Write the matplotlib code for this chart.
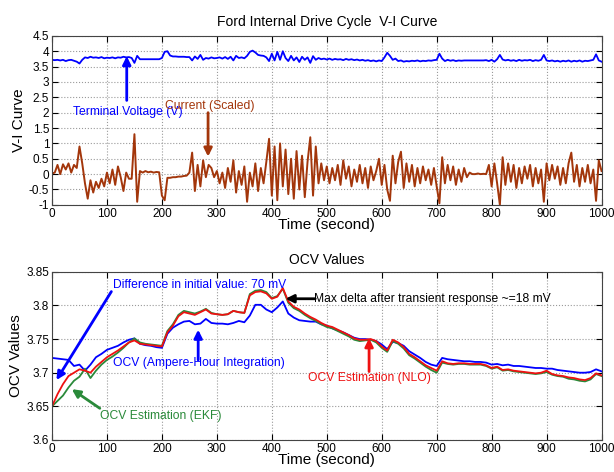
import numpy as np
import matplotlib
matplotlib.use('Agg')
import matplotlib.pyplot as plt
from matplotlib.ticker import FuncFormatter

plt.rcParams['font.family'] = ['Liberation Sans', 'DejaVu Sans']
plt.rcParams['axes.unicode_minus'] = False

# ---- top panel: terminal voltage and scaled current, one sample every 5 s ----
voltage = [
	3.72, 3.71, 3.72, 3.70, 3.72, 3.68, 3.71, 3.72, 3.69, 3.66,
	3.60, 3.72, 3.80, 3.78, 3.82, 3.79, 3.80, 3.78, 3.81, 3.77,
	3.79, 3.78, 3.80, 3.77, 3.80, 3.79, 3.82, 3.80, 3.81, 3.78,
	3.62, 3.85, 3.74, 3.74, 3.74, 3.74, 3.74, 3.74, 3.74, 3.74,
	3.78, 3.98, 4.00, 3.86, 3.83, 3.83, 3.82, 3.82, 3.82, 3.81,
	3.81, 3.70, 3.83, 3.75, 3.88, 3.72, 3.78, 3.76, 3.80, 3.77,
	3.78, 3.80, 3.76, 3.81, 3.75, 3.82, 3.70, 3.85, 3.78, 3.80,
	3.77, 3.85, 3.98, 4.02, 3.96, 3.88, 3.86, 3.85, 3.80, 3.68,
	3.92, 3.70, 3.98, 3.72, 4.00, 3.78, 3.68, 3.85, 3.70, 3.80,
	3.65, 3.82, 3.72, 3.80, 3.62, 3.84, 3.72, 3.78, 3.74, 3.76,
	3.73, 3.76, 3.72, 3.75, 3.73, 3.74, 3.71, 3.75, 3.72, 3.74,
	3.71, 3.73, 3.70, 3.72, 3.69, 3.71, 3.68, 3.70, 3.67, 3.70,
	3.68, 3.80, 3.95, 3.85, 3.72, 3.76, 3.68, 3.70, 3.66, 3.68,
	3.67, 3.69, 3.68, 3.70, 3.67, 3.69, 3.68, 3.70, 3.69, 3.71,
	3.72, 3.92, 3.76, 3.68, 3.72, 3.69, 3.71, 3.68, 3.70, 3.69,
	3.70, 3.70, 3.70, 3.70, 3.70, 3.70, 3.70, 3.70, 3.71, 3.68,
	3.72, 3.66, 3.74, 3.88, 3.73, 3.70, 3.72, 3.69, 3.71, 3.68,
	3.72, 3.69, 3.71, 3.70, 3.72, 3.68, 3.71, 3.69, 3.72, 3.88,
	3.70, 3.68, 3.70, 3.67, 3.69, 3.66, 3.69, 3.67, 3.70, 3.66,
	3.69, 3.67, 3.70, 3.66, 3.69, 3.68, 3.70, 3.72, 3.90, 3.70,
	3.66,
]

current = [
	0.02, 0.05, 0.30, 0.00, 0.32, 0.15, 0.35, 0.05, 0.30, 0.20,
	0.90, 0.35, -0.30, -0.80, -0.20, -0.60, -0.25, -0.45, -0.15, -0.40,
	0.05, -0.30, 0.15, -0.35, 0.25, -0.10, -0.55, 0.05, -0.15, -0.15,
	1.30, -0.90, 0.10, 0.05, 0.10, 0.06, 0.08, 0.05, 0.07, 0.06,
	-0.70, -0.85, -0.12, -0.12, -0.10, -0.10, -0.08, -0.08, -0.06, -0.05,
	0.05, 0.70, -0.55, 0.30, -0.40, 0.45, -0.10, 0.30, 0.20, -0.10,
	0.10, -0.30, 0.05, -0.45, 0.20, -0.25, 0.45, -0.60, 0.10, -0.35,
	0.25, -0.90, 0.05, -0.40, 0.35, -0.55, 0.20, -0.30, 0.40, 1.15,
	-0.70, 0.90, -0.85, 1.00, -0.40, 0.80, -0.65, 0.50, -0.80, 0.75,
	-0.50, 0.60, -0.75, 0.40, 1.20, -0.70, 0.90, -0.30, 0.35, -0.20,
	0.25, -0.30, 0.20, -0.20, 0.30, -0.35, 0.45, -0.15, 0.25, -0.40,
	0.15, -0.25, 0.30, -0.30, 0.20, -0.45, 0.25, -0.20, 0.10, 0.50,
	-0.35, 0.30, -0.50, -0.87, 0.60, -0.30, 0.40, 0.73, -0.45, 0.35,
	-0.25, 0.30, -0.40, 0.20, -0.30, 0.25, -0.20, 0.15, -0.35, 0.20,
	-0.40, -0.95, 0.55, -0.30, 0.30, -0.20, 0.25, -0.35, 0.15, -0.25,
	0.20, -0.10, 0.05, 0.00, 0.00, 0.02, 0.00, 0.01, 0.00, 0.30,
	-0.40, 0.35, -0.30, -1.00, 0.55, -0.35, 0.35, -0.25, 0.30, -0.45,
	0.20, -0.30, 0.25, -0.15, 0.30, -0.40, 0.20, -0.30, 0.15, -0.90,
	0.35, -0.20, 0.30, -0.15, 0.25, -0.35, 0.20, -0.30, 0.35, 0.70,
	-0.25, 0.30, -0.40, 0.20, -0.25, 0.30, -0.30, 0.15, -0.87, 0.45,
	0.10,
]

# ---- bottom panel: OCV estimates, one sample every 10 s ----
ocv_ah = [
	3.722, 3.721, 3.720, 3.719, 3.710, 3.712, 3.703, 3.712, 3.723, 3.728,
	3.734, 3.737, 3.740, 3.745, 3.749, 3.751, 3.743, 3.741, 3.740, 3.738,
	3.737, 3.758, 3.767, 3.772, 3.776, 3.777, 3.772, 3.773, 3.780, 3.774,
	3.773, 3.773, 3.772, 3.774, 3.777, 3.775, 3.785, 3.801, 3.801, 3.794,
	3.790, 3.797, 3.806, 3.788, 3.782, 3.778, 3.777, 3.776, 3.776, 3.772,
	3.770, 3.766, 3.763, 3.760, 3.756, 3.752, 3.750, 3.750, 3.749, 3.747,
	3.742, 3.735, 3.746, 3.744, 3.740, 3.732, 3.727, 3.722, 3.716, 3.712,
	3.710, 3.722, 3.720, 3.719, 3.718, 3.717, 3.717, 3.716, 3.716, 3.715,
	3.712, 3.713, 3.711, 3.712, 3.710, 3.710, 3.709, 3.708, 3.707, 3.707,
	3.706, 3.706, 3.704, 3.703, 3.702, 3.701, 3.700, 3.700, 3.701, 3.705,
	3.702,
]

ocv_nlo = [
	3.650, 3.668, 3.683, 3.695, 3.700, 3.705, 3.703, 3.700, 3.709, 3.716,
	3.723, 3.728, 3.733, 3.739, 3.745, 3.748, 3.743, 3.742, 3.741, 3.740,
	3.739, 3.760, 3.770, 3.784, 3.790, 3.788, 3.786, 3.790, 3.794, 3.788,
	3.787, 3.786, 3.787, 3.792, 3.790, 3.789, 3.815, 3.820, 3.821, 3.818,
	3.810, 3.813, 3.826, 3.806, 3.798, 3.794, 3.788, 3.783, 3.779, 3.774,
	3.770, 3.768, 3.764, 3.760, 3.756, 3.751, 3.749, 3.749, 3.750, 3.747,
	3.739, 3.733, 3.749, 3.745, 3.738, 3.728, 3.723, 3.717, 3.711, 3.707,
	3.703, 3.717, 3.714, 3.713, 3.714, 3.714, 3.713, 3.713, 3.713, 3.711,
	3.707, 3.709, 3.704, 3.705, 3.703, 3.702, 3.701, 3.700, 3.699, 3.700,
	3.703, 3.698, 3.696, 3.695, 3.693, 3.692, 3.690, 3.689, 3.692, 3.699,
	3.696,
]

ocv_ekf = [
	3.650, 3.658, 3.666, 3.678, 3.688, 3.694, 3.706, 3.692, 3.703, 3.712,
	3.719, 3.724, 3.730, 3.737, 3.745, 3.751, 3.745, 3.743, 3.742, 3.741,
	3.740, 3.762, 3.772, 3.786, 3.792, 3.790, 3.788, 3.791, 3.795, 3.789,
	3.787, 3.786, 3.787, 3.792, 3.790, 3.789, 3.817, 3.822, 3.823, 3.820,
	3.811, 3.814, 3.825, 3.804, 3.796, 3.792, 3.786, 3.781, 3.777, 3.772,
	3.768, 3.766, 3.762, 3.758, 3.754, 3.749, 3.747, 3.748, 3.749, 3.745,
	3.737, 3.731, 3.747, 3.743, 3.736, 3.726, 3.721, 3.715, 3.709, 3.704,
	3.700, 3.715, 3.713, 3.712, 3.713, 3.713, 3.712, 3.712, 3.712, 3.710,
	3.706, 3.708, 3.703, 3.704, 3.702, 3.701, 3.700, 3.699, 3.698, 3.699,
	3.701, 3.697, 3.695, 3.694, 3.691, 3.690, 3.688, 3.687, 3.690, 3.698,
	3.695,
]

t_vi = np.linspace(0, 1000, len(voltage))
t_ocv = np.linspace(0, 1000, len(ocv_ah))

BLUE = '#0000ff'
BROWN = '#a3360b'
GREEN = '#2a8a3a'
RED = '#ee1111'
NOTE = 8.7

def styleAxes(ax):
	ax.set_xlim(0, 1000)
	ax.set_xticks(range(0, 1001, 100))
	ax.grid(True, linestyle=':', color='#9a9a9a', linewidth=0.8)
	ax.tick_params(direction='in', top=True, right=True, labelsize=8.5, length=4, pad=2)
	ax.yaxis.set_major_formatter(FuncFormatter(lambda v, p: '%g' % round(v, 3)))
	for s in ax.spines.values():
		s.set_color('#444444')
		s.set_linewidth(0.8)
	ax.set_xlabel('Time (second)', fontsize=11, labelpad=-1)

def arrow(ax, tail, tip, color):
	ax.annotate('', xy=tip, xytext=tail,
		arrowprops=dict(arrowstyle='-|>', color=color, lw=2, mutation_scale=12, shrinkA=0, shrinkB=0))

fig = plt.figure(figsize=(6.14, 4.72), dpi=100)

ax1 = fig.add_axes([0.0847, 0.566, 0.895, 0.358])
ax1.plot(t_vi, voltage, color=BLUE, lw=1.3)
ax1.plot(t_vi, current, color=BROWN, lw=1.4)
ax1.set_ylim(-1, 4.5)
ax1.set_yticks(np.arange(-1, 4.51, 0.5))
styleAxes(ax1)
ax1.set_title('Ford Internal Drive Cycle  V-I Curve', fontsize=10, pad=7)
ax1.set_ylabel('V-I Curve', fontsize=11, labelpad=2)
ax1.text(38, 2.02, 'Terminal Voltage (V)', color=BLUE, fontsize=NOTE, va='center')
arrow(ax1, (136, 2.4), (136, 3.84), BLUE)
ax1.text(205, 2.22, 'Current (Scaled)', color=BROWN, fontsize=NOTE, va='center')
arrow(ax1, (284, 2.0), (284, 0.57), BROWN)

ax2 = fig.add_axes([0.0847, 0.068, 0.895, 0.356])
ax2.plot(t_ocv, ocv_ah, color=BLUE, lw=1.3)
ax2.plot(t_ocv, ocv_ekf, color=GREEN, lw=1.3)
ax2.plot(t_ocv, ocv_nlo, color=RED, lw=1.3)
ax2.set_ylim(3.6, 3.85)
ax2.set_yticks(np.arange(3.6, 3.851, 0.05))
styleAxes(ax2)
ax2.set_title('OCV Values', fontsize=10, pad=6)
ax2.set_ylabel('OCV Values', fontsize=11, labelpad=2)

ax2.text(111, 3.8305, 'Difference in initial value: 70 mV', color=BLUE, fontsize=NOTE, va='center')
arrow(ax2, (108, 3.8207), (8, 3.689), BLUE)
ax2.text(111, 3.715, 'OCV (Ampere-Hour Integration)', color=BLUE, fontsize=NOTE, va='center')
arrow(ax2, (266, 3.719), (266, 3.764), BLUE)
ax2.text(87, 3.636, 'OCV Estimation (EKF)', color=GREEN, fontsize=NOTE, va='center')
arrow(ax2, (87, 3.647), (36, 3.6755), GREEN)
ax2.text(466, 3.6918, 'OCV Estimation (NLO)', color=RED, fontsize=NOTE, va='center')
arrow(ax2, (577, 3.7017), (577, 3.7513), RED)
ax2.text(476, 3.8094, 'Max delta after transient response ~=18 mV', color='black', fontsize=NOTE, va='center')
arrow(ax2, (479, 3.81), (425, 3.81), 'black')

fig.savefig('out.png', dpi=100)
